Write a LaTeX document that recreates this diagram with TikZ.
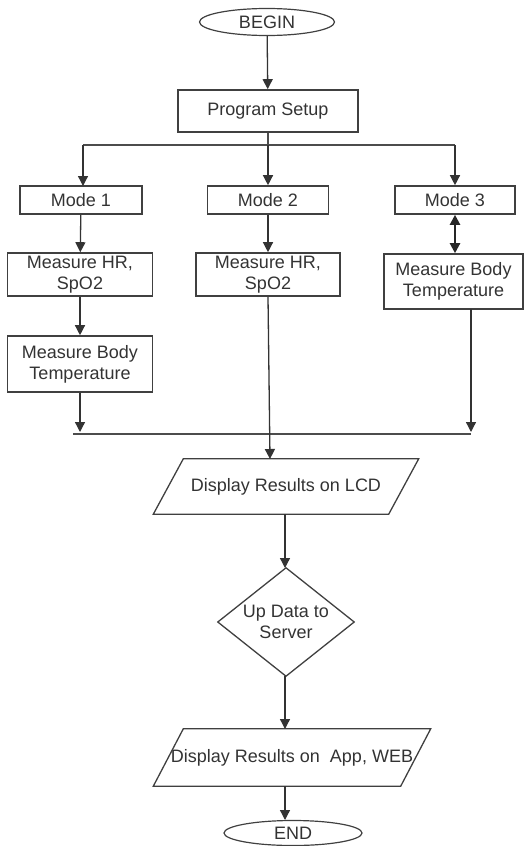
\documentclass[tikz,border=0pt]{standalone}
\usepackage{fontspec}
\setmainfont{Liberation Sans}
\usetikzlibrary{arrows.meta,shapes.geometric}
\begin{document}
\begin{tikzpicture}[x=1pt,y=-1pt,
  font=\fontsize{18}{21}\selectfont,
  every node/.style={align=center,inner sep=0pt,text=black!80},
  box/.style={draw=black!75,line width=1.6pt,minimum height=#1},
  oval/.style={draw=black!75,line width=1.2pt,ellipse,minimum width=135,minimum height=27},
  conn/.style={draw=black!80,line width=1.3pt,-{Triangle[length=10pt,width=10pt]}},
  plain/.style={draw=black!70,line width=1.3pt},
  shapeline/.style={draw=black!75,line width=1.3pt}
]
\useasboundingbox (0,0) rectangle (528,846);
% nodes
\node[oval] (begin) at (267,22) {BEGIN};
\node[box=42,minimum width=180] (setup) at (268,111) {Program Setup};
\node[box=28,minimum width=122] (m1) at (81,200) {Mode 1};
\node[box=28,minimum width=121] (m2) at (268,200) {Mode 2};
\node[box=28,minimum width=120] (m3) at (455,200) {Mode 3};
\node[box=43,minimum width=145] (hr1) at (80,274.5) {Measure HR,\\SpO2};
\node[box=43,minimum width=144] (hr2) at (268,274.5) {Measure HR,\\SpO2};
\node[box=55,minimum width=139] (bt3) at (453.5,281.5) {Measure Body\\Temperature};
\node[box=56,minimum width=145] (bt1) at (80,364) {Measure Body\\Temperature};
\node[minimum width=235,minimum height=55] (lcd) at (286,486.5) {Display Results on LCD};
\draw[shapeline] ([xshift=15]lcd.north west) -- ([xshift=15]lcd.north east) -- ([xshift=-15]lcd.south east) -- ([xshift=-15]lcd.south west) -- cycle;
\node[minimum width=136,minimum height=108] (up) at (286,622) {Up Data to\\Server};
\draw[shapeline] (up.north) -- (up.east) -- (up.south) -- (up.west) -- cycle;
\node[minimum width=247,minimum height=57] (app) at (292,757.5) {Display Results on~ App, WEB};
\draw[shapeline] ([xshift=15]app.north west) -- ([xshift=15]app.north east) -- ([xshift=-15]app.south east) -- ([xshift=-15]app.south west) -- cycle;
\node[oval,minimum width=138,minimum height=25] (end) at (293,833) {END};
% coordinates
\coordinate (j) at (268,145);
\coordinate (a1) at (80,432);
\coordinate (a3) at (471,432);
\coordinate (bl) at (73,434);
\coordinate (br) at (471,434);
\coordinate (b3) at (471,309);
\coordinate (lcdin) at (285,514);
\coordinate (upin) at (285,568);
\coordinate (upout) at (285,676);
\coordinate (appin) at (285,729);
\coordinate (appout) at (285,786);
\coordinate (endin) at (285,820);
% connectors
\draw[conn] (begin) -- (setup);
\draw[plain] (setup) -- (j);
\draw[plain] (j) -- (83,145) coordinate (jl);
\draw[plain] (j) -- (455,145) coordinate (jr);
\draw[conn] (jl) -- (83,186);
\draw[conn] (j) -- (m2);
\draw[conn] (jr) -- (m3);
\draw[conn] (m1) -- (hr1);
\draw[conn] (hr1) -- (bt1);
\draw[conn] (m2) -- (hr2);
\draw[draw=black!85,line width=2.2pt,{Triangle[length=10pt,width=10pt]}-{Triangle[length=10pt,width=10pt]}] (m3) -- (m3 |- bt3.north);
\draw[conn] (bt1) -- (a1);
\draw[conn] (b3) -- (a3);
\draw[plain] (bl) -- (br);
\draw[conn] (hr2.south) -- (270,459);
\draw[conn] (lcdin) -- (upin);
\draw[conn] (upout) -- (appin);
\draw[conn] (appout) -- (endin);
\end{tikzpicture}
\end{document}
